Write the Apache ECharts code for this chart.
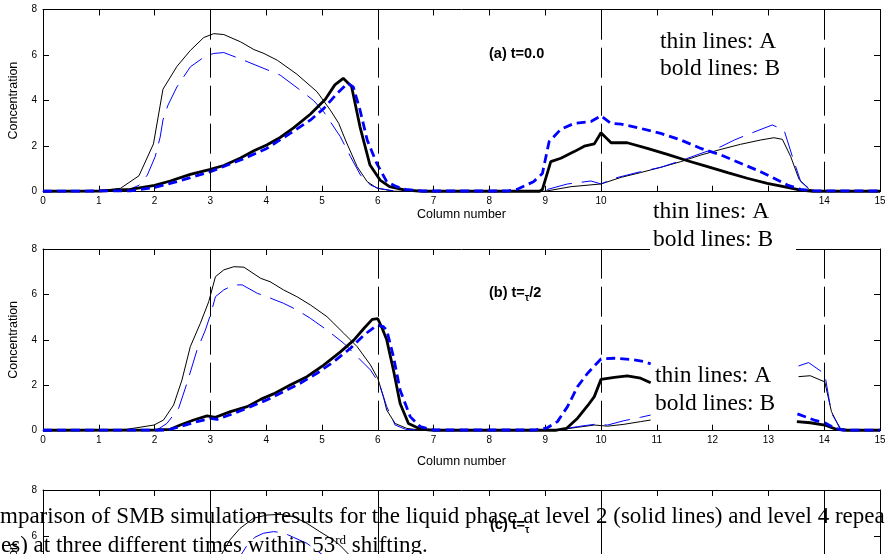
<!DOCTYPE html>
<html><head><meta charset="utf-8">
<script src="https://cdn.jsdelivr.net/npm/echarts@6/dist/echarts.min.js"></script>
<style>html,body{margin:0;padding:0;background:#fff}#c{width:885px;height:554px}</style>
</head><body><div id="c"></div>
<script>
// ---------- data ----------
const xRange = [0, 15];
const yRange = [0, 8];
const dividers = [3, 6, 10, 14];
const panelTitles = ['(a) t=0.0', '(b) t=', '(c) t='];

// panel (a) t = 0
const aThinL2 = [[0,0.02],[1,0.04],[1.39,0.15],[1.72,0.7],[1.98,2.1],[2.15,4.5],[2.4,5.5],[2.64,6.2],[2.88,6.77],[3.06,6.94],[3.24,6.9],[3.54,6.58],[3.78,6.24],[3.96,6.07],[4.2,5.77],[4.55,5.16],[4.91,4.39],[5.15,3.58],[5.3,3.0],[5.42,2.27],[5.63,1.1],[5.81,0.44],[5.99,0.15],[6.3,0.02],[9.0,0.02],[9.46,0.22],[10,0.34],[10.36,0.63],[10.71,0.84],[11.07,1.07],[11.43,1.32],[11.79,1.61],[12.15,1.86],[12.5,2.08],[12.86,2.27],[13.1,2.37],[13.25,2.3],[13.4,1.54],[13.55,0.54],[13.73,0.1],[13.9,0.02],[15,0.02]];
const aThinL4 = [[0,0.02],[1.5,0.05],[1.72,0.28],[1.87,0.73],[2.01,1.54],[2.1,2.4],[2.15,3.15],[2.24,3.8],[2.4,4.6],[2.64,5.48],[2.91,5.95],[3.06,6.07],[3.24,6.11],[3.6,5.77],[3.96,5.41],[4.25,5.12],[4.61,4.46],[4.85,4.0],[5.03,3.51],[5.33,2.41],[5.51,1.54],[5.69,0.73],[5.87,0.29],[6.01,0.15],[6.3,0.03],[9.0,0.03],[9.04,0.1],[9.4,0.34],[9.82,0.47],[10,0.34],[10.24,0.59],[10.71,0.88],[11.07,1.07],[11.43,1.36],[11.79,1.68],[12.15,1.98],[12.39,2.27],[12.68,2.56],[13.07,2.93],[13.28,2.71],[13.43,1.54],[13.58,0.44],[13.75,0.1],[13.9,0.03],[15,0.03]];
const aBoldL2 = [[0,0.02],[1,0.03],[1.57,0.1],[2.0,0.28],[2.28,0.47],[2.64,0.76],[3.0,0.98],[3.24,1.15],[3.54,1.48],[3.78,1.8],[4.01,2.05],[4.25,2.38],[4.49,2.8],[4.79,3.4],[5.06,4.06],[5.23,4.69],[5.38,4.98],[5.53,4.62],[5.68,2.86],[5.86,1.17],[6.04,0.51],[6.21,0.22],[6.5,0.07],[6.8,0.02],[8.9,0.02],[8.95,0.1],[9.1,1.32],[9.28,1.47],[9.52,1.76],[9.7,2.0],[9.88,2.1],[10.0,2.59],[10.18,2.15],[10.47,2.15],[10.83,1.9],[11.19,1.64],[11.55,1.36],[11.91,1.1],[12.27,0.84],[12.62,0.59],[12.98,0.37],[13.34,0.19],[13.58,0.07],[13.8,0.02],[15,0.02]];
const aBoldL4 = [[0,0.02],[1.57,0.04],[2.0,0.19],[2.4,0.44],[3.0,0.88],[3.54,1.39],[4.01,1.9],[4.43,2.56],[4.79,3.14],[5.03,3.65],[5.27,4.31],[5.46,4.76],[5.56,4.6],[5.68,3.6],[5.81,2.27],[5.98,1.25],[6.16,0.44],[6.34,0.22],[6.5,0.1],[6.8,0.03],[8.3,0.03],[8.49,0.1],[8.79,0.44],[8.95,0.8],[9.07,2.2],[9.28,2.74],[9.52,3.0],[9.82,3.08],[10.0,3.33],[10.18,3.0],[10.36,2.97],[10.71,2.78],[11.07,2.56],[11.43,2.27],[11.79,1.9],[12.15,1.61],[12.5,1.25],[12.86,0.88],[13.1,0.59],[13.34,0.29],[13.58,0.1],[13.82,0.04],[15,0.03]];

// panel (b) t = tau/2  (null = hidden behind the note box)
const bThinL2 = [[0,0.02],[1.0,0.03],[1.5,0.06],[1.99,0.25],[2.16,0.47],[2.34,1.13],[2.49,2.23],[2.64,3.7],[2.82,4.73],[2.97,5.68],[3.09,6.78],[3.24,7.08],[3.42,7.22],[3.6,7.2],[3.9,6.71],[4.07,6.56],[4.31,6.2],[4.55,5.9],[4.79,5.54],[5.09,5.02],[5.39,4.29],[5.63,3.7],[5.87,2.89],[6.0,2.3],[6.1,1.5],[6.16,0.91],[6.31,0.32],[6.52,0.1],[6.8,0.02],[9.2,0.02],[9.58,0.15],[9.88,0.25],[10.12,0.2],[10.41,0.28],[10.71,0.4],[10.89,0.47],[12,null],[13.54,2.38],[13.75,2.42],[14.01,2.15],[14.13,0.84],[14.28,0.1],[14.5,0.02],[15,0.02]];
const bThinL4 = [[0,0.02],[2.04,0.03],[2.22,0.32],[2.43,0.98],[2.58,2.09],[2.76,3.55],[2.91,4.43],[3.01,5.17],[3.09,5.9],[3.24,6.2],[3.42,6.42],[3.57,6.42],[3.84,6.05],[4.01,5.9],[4.31,5.61],[4.55,5.32],[4.79,4.95],[5.09,4.43],[5.39,3.85],[5.63,3.26],[5.87,2.67],[6.02,2.1],[6.16,1.06],[6.31,0.25],[6.5,0.06],[6.8,0.02],[9.2,0.03],[9.58,0.18],[9.88,0.28],[10.12,0.25],[10.41,0.44],[10.71,0.59],[10.89,0.69],[12,null],[13.54,2.85],[13.72,3.0],[14.01,2.5],[14.13,0.77],[14.3,0.07],[14.5,0.02],[15,0.02]];
const bBoldL2 = [[0,0.02],[2.04,0.03],[2.28,0.06],[2.46,0.25],[2.7,0.47],[2.94,0.65],[3.09,0.59],[3.36,0.84],[3.66,1.06],[3.9,1.38],[4.13,1.62],[4.43,2.01],[4.73,2.38],[5.03,2.89],[5.33,3.47],[5.57,3.99],[5.75,4.5],[5.9,4.9],[6.0,4.93],[6.08,4.5],[6.16,4.0],[6.28,2.67],[6.4,1.2],[6.55,0.32],[6.76,0.07],[7.0,0.02],[9.2,0.02],[9.38,0.1],[9.58,0.55],[9.76,1.1],[9.88,1.5],[10.0,2.26],[10.24,2.35],[10.47,2.41],[10.71,2.31],[10.89,2.11],[12,null],[13.51,0.4],[13.75,0.35],[14.01,0.25],[14.22,0.06],[14.4,0.02],[15,0.02]];
const bBoldL4 = [[0,0.02],[2.22,0.03],[2.46,0.18],[2.76,0.4],[3.0,0.54],[3.12,0.5],[3.42,0.76],[3.72,1.06],[4.01,1.35],[4.31,1.72],[4.61,2.09],[4.91,2.53],[5.21,3.04],[5.51,3.63],[5.75,4.21],[5.99,4.65],[6.1,4.58],[6.16,4.43],[6.28,3.26],[6.4,1.79],[6.58,0.62],[6.76,0.18],[7.0,0.03],[8.8,0.03],[9.03,0.12],[9.22,0.4],[9.4,1.06],[9.58,1.94],[9.76,2.53],[10.0,3.16],[10.24,3.19],[10.53,3.14],[10.77,3.04],[10.89,2.94],[12,null],[13.52,0.74],[13.82,0.47],[14.01,0.35],[14.2,0.1],[14.34,0.03],[15,0.02]];

// panel (c) t = tau (only the top of the panel is visible)
const cThinL2 = [[3.0,4.2],[3.2,5.2],[3.35,5.83],[3.53,6.33],[3.77,6.77],[4.01,6.91],[4.25,6.94],[4.49,6.84],[4.73,6.55],[4.96,6.19],[5.2,5.83],[5.32,5.6],[5.6,4.9]];
const cThinL4 = [[3.4,4.6],[3.65,5.57],[3.8,5.95],[3.95,6.12],[4.13,6.19],[4.31,6.14],[4.49,5.94],[4.73,5.68],[5.0,5.2]];

const noteLines = ['thin lines: A', 'bold lines: B'];
const captionLine1 = 'mparison of SMB simulation results for the liquid phase at level 2 (solid lines) and level 4 repea';
const captionLine2a = 'es) at three different times within 53';
const captionSup = 'rd';
const captionLine2b = ' shifting.';

// ---------- chart ----------
const SANS = '"Liberation Sans", Arial, sans-serif';
const SERIF = '"Liberation Serif", "Times New Roman", serif';
const NOTE_SIZE = 23.5;
const CAP_SIZE = 23;
const grids = [
  {left: 43, top: 9.5, width: 837, height: 182.2, outerBoundsMode: 'none', containLabel: false},
  {left: 43, top: 249, width: 837, height: 181.7, outerBoundsMode: 'none', containLabel: false},
  {left: 43, top: 490, width: 837, height: 184, outerBoundsMode: 'none', containLabel: false}
];
const nameGaps = [14, 24, 24];
const xAxes = [], yAxes = [];
grids.forEach((g, i) => {
  const common = {gridIndex: i, type: 'value', min: xRange[0], max: xRange[1], interval: 1,
    axisLine: {show: true, onZero: false, lineStyle: {color: '#000', width: 1}},
    axisTick: {show: true, inside: true, length: 6, lineStyle: {color: '#000', width: 1}},
    splitLine: {show: false}};
  xAxes.push(Object.assign({}, common, {position: 'bottom',
    axisLabel: {show: true, fontSize: 10, color: '#000', margin: 5, fontFamily: SANS},
    name: 'Column number', nameLocation: 'middle', nameGap: nameGaps[i],
    nameTextStyle: {fontSize: 12.5, color: '#000', fontFamily: SANS}}));
  xAxes.push(Object.assign({}, common, {position: 'top', axisLabel: {show: false}}));
  const ycommon = {gridIndex: i, type: 'value', min: yRange[0], max: yRange[1], interval: 2,
    axisLine: {show: true, onZero: false, lineStyle: {color: '#000', width: 1}},
    axisTick: {show: true, inside: true, length: 6, lineStyle: {color: '#000', width: 1}},
    splitLine: {show: false}};
  yAxes.push(Object.assign({}, ycommon, {position: 'left',
    axisLabel: {show: true, fontSize: 10, color: '#000', margin: 6, fontFamily: SANS},
    name: 'Concentration', nameLocation: 'middle', nameGap: 21,
    nameTextStyle: {fontSize: 12.5, color: '#000', fontFamily: SANS}}));
  yAxes.push(Object.assign({}, ycommon, {position: 'right', axisLabel: {show: false}}));
});

function mk(data, panel, kind) {
  const styles = {
    thinL2: {color: '#000', width: 1, type: 'solid'},
    thinL4: {color: '#0000ff', width: 1, type: [26, 10]},
    boldL2: {color: '#000', width: 2.8, type: 'solid'},
    boldL4: {color: '#0000ff', width: 2.8, type: [9, 5]}
  };
  return {type: 'line', xAxisIndex: panel * 2, yAxisIndex: panel * 2, data: data,
    showSymbol: false, symbol: 'none', connectNulls: false, silent: true,
    lineStyle: styles[kind], itemStyle: {color: styles[kind].color}};
}
function dividerSeries(panel, dash) {
  return {type: 'line', xAxisIndex: panel * 2, yAxisIndex: panel * 2, data: [], silent: true,
    markLine: {silent: true, symbol: ['none', 'none'], label: {show: false},
      lineStyle: {color: '#000', width: 1, type: dash},
      data: dividers.map(v => ({xAxis: v}))}};
}

const series = [
  dividerSeries(0, [30, 8]), dividerSeries(1, [30, 8]), dividerSeries(2, 'solid'),
  mk(aThinL2, 0, 'thinL2'), mk(aThinL4, 0, 'thinL4'), mk(aBoldL2, 0, 'boldL2'), mk(aBoldL4, 0, 'boldL4'),
  mk(bThinL2, 1, 'thinL2'), mk(bThinL4, 1, 'thinL4'), mk(bBoldL2, 1, 'boldL2'), mk(bBoldL4, 1, 'boldL4'),
  mk(cThinL2, 2, 'thinL2'), mk(cThinL4, 2, 'thinL4')
];

const titleRich = {
  m: {fontSize: 14.5, fontWeight: 'bold', fontFamily: SANS, color: '#000', verticalAlign: 'bottom', padding: [0, 0, 3, 0]},
  s: {fontSize: 10, fontWeight: 'bold', fontFamily: SANS, color: '#000', verticalAlign: 'bottom'}
};
// baseline -> top of text box (Liberation Serif: ~0.8 em)
function note(x, baseline) {
  return noteLines.map((t, k) => ({type: 'text', x: x, y: baseline + k * 27.7 - 0.8 * NOTE_SIZE, z: 110,
    style: {text: t, font: NOTE_SIZE + 'px ' + SERIF, fill: '#000', textVerticalAlign: 'top'}}));
}
const graphic = [
  {type: 'text', x: 489, y: 55, z: 105, style: {text: '{m|' + panelTitles[0] + '}', rich: titleRich, textVerticalAlign: 'middle'}},
  {type: 'text', x: 489, y: 294, z: 105, style: {text: '{m|' + panelTitles[1] + '}{s|\u03c4}{m|/2}', rich: titleRich, textVerticalAlign: 'middle'}},
  {type: 'text', x: 490, y: 526, z: 105, style: {text: '{m|' + panelTitles[2] + '}{s|\u03c4}', rich: titleRich, textVerticalAlign: 'middle'}},
  {type: 'rect', z: 100, shape: {x: 650, y: 194, width: 146, height: 63}, style: {fill: '#fff'}},
  ...note(660, 48.3), ...note(653, 219), ...note(655, 383),
  {type: 'text', x: 0, y: 524 - 0.8 * CAP_SIZE, z: 120, style: {text: captionLine1, font: CAP_SIZE + 'px ' + SERIF, fill: '#000', textVerticalAlign: 'top'}},
  {type: 'text', x: 1, y: 552.7 - 0.8 * CAP_SIZE, z: 120, style: {
    text: '{n|' + captionLine2a + '}{sup|' + captionSup + '}{n|' + captionLine2b + '}',
    textVerticalAlign: 'top',
    rich: {n: {fontSize: CAP_SIZE, fontFamily: SERIF, color: '#000', verticalAlign: 'top'},
           sup: {fontSize: 13, fontFamily: SERIF, color: '#000', verticalAlign: 'top'}}}}
];

const chart = echarts.init(document.getElementById('c'), null, {renderer: 'canvas'});
chart.setOption({
  animation: false,
  backgroundColor: '#fff',
  textStyle: {fontFamily: SANS},
  grid: grids,
  xAxis: xAxes,
  yAxis: yAxes,
  series: series,
  graphic: graphic
});
</script>
</body></html>
